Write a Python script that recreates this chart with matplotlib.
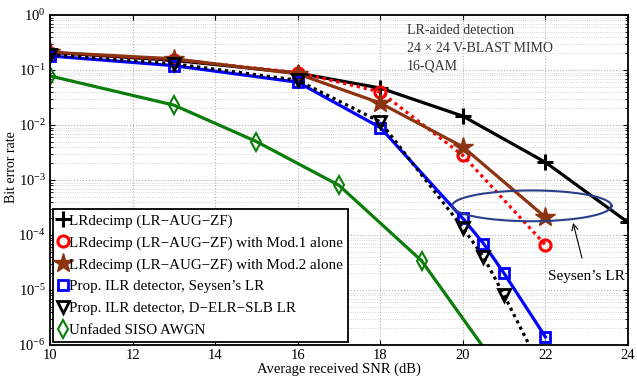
import numpy as np
import matplotlib
matplotlib.use('Agg')
import matplotlib.pyplot as plt
from matplotlib.lines import Line2D

plt.rcParams['font.family'] = ['Liberation Serif', 'DejaVu Serif']
plt.rcParams['mathtext.fontset'] = 'stix'

# data
snr_a = [10, 13, 16, 18, 20, 22, 24]
ber_lrdecimp = [0.21, 0.15, 0.088, 0.047, 0.0145, 0.0021, 1.7e-4]

snr_b = [10, 13, 16, 18, 20, 22]
ber_mod1 = [0.2, 0.155, 0.09, 0.04, 0.0028, 6.6e-5]
ber_mod2 = [0.21, 0.16, 0.085, 0.025, 0.004, 2.1e-4]

snr_c = [10, 13, 16, 18, 20, 20.5, 21, 22]
ber_seysen = [0.18, 0.12, 0.06, 0.009, 2.0e-4, 7.0e-5, 2.0e-5, 1.4e-6]
ber_delr = [0.19, 0.13, 0.065, 0.0114, 1.35e-4, 4.0e-5, 8.0e-6, 2.6e-7]

snr_d = [10, 13, 15, 17, 19, 21]
ber_awgn = [0.078, 0.023, 0.005, 8.0e-4, 3.4e-5, 2.7e-7]

labels = ['LRdecimp (LR\u2212AUG\u2212ZF)',
          'LRdecimp (LR\u2212AUG\u2212ZF) with Mod.1 alone',
          'LRdecimp (LR\u2212AUG\u2212ZF) with Mod.2 alone',
          'Prop. ILR detector, Seysen\u2019s LR',
          'Prop. ILR detector, D\u2212ELR\u2212SLB LR',
          'Unfaded SISO AWGN']

brown = '#8c3310'
green = '#0a7d0a'
styles = [
    dict(color='k', marker='+', ms=11, mew=2.2, mfc='none'),
    dict(color='r', marker='o', ms=8, mew=2.2, mfc='none'),
    dict(color=brown, marker='*', ms=15, mew=1, mfc=brown),
    dict(color='b', marker='s', ms=7, mew=2, mfc='none'),
    dict(color='k', marker='v', ms=9, mew=2, mfc='none'),
    dict(color=green, marker='d', ms=9, mew=1.5, mfc='none'),
]
dotted = (0, (1, 1.2))
linestyles = ['-', dotted, '-', '-', dotted, '-']

fig = plt.figure(figsize=(6.37, 3.83), dpi=100)
ax = fig.add_axes([50/637, 38/383, 578/637, 330/383])

series = [(snr_a, ber_lrdecimp), (snr_b, ber_mod1), (snr_b, ber_mod2),
          (snr_c, ber_seysen), (snr_c, ber_delr), (snr_d, ber_awgn)]
for (x, y), st, ls in zip(series, styles, linestyles):
    ax.semilogy(x, y, lw=2.3, ls=ls, **st)

ax.set_xlim(10, 24)
ax.set_ylim(1e-6, 1)
ax.set_xticks(range(10, 25, 2))
ax.grid(True, which='major', color='#b0b0b0', ls=':', lw=0.8)
ax.grid(True, which='minor', color='#c8c8c8', ls=':', lw=0.6)
ax.tick_params(which='both', direction='in', top=True, right=True, labelsize=10.5, pad=3)
for s in ax.spines.values():
    s.set_linewidth(1.3)
ax.set_xlabel('Average received SNR (dB)', fontsize=10.5, labelpad=0)
ax.set_ylabel('Bit error rate', fontsize=10)
ax.yaxis.set_label_coords(-0.056, 0.54)

ax.text(18.65, 0.68, 'LR-aided detection\n24 \u00d7 24 V-BLAST MIMO\n16-QAM',
        fontsize=10, va='top', ha='left', linespacing=1.45, color='#333333')

# ellipse around the Seysen's LR region
t = np.linspace(0, 2*np.pi, 200)
ex = 21.67 + 1.93*np.cos(t)
ey = 10**(-3.47 + 0.28*np.sin(t))
ax.plot(ex, ey, color='#2b3e8c', lw=1.5)
ax.annotate("Seysen\u2019s LR", xy=(22.67, 10**-3.78), xytext=(23.0, 10**-4.76),
            fontsize=11, ha='center', va='center',
            arrowprops=dict(arrowstyle='->', color='k', lw=0.8, shrinkA=7, shrinkB=0))

handles = [Line2D([], [], ls='none', **st) for st in styles]
leg = ax.legend(handles, labels, loc='lower left', fontsize=10.8, handlelength=0.6,
                handletextpad=0.1, borderpad=0.35, labelspacing=0.55,
                fancybox=False, framealpha=1, edgecolor='k',
                bbox_to_anchor=(0.0, 0.0), borderaxespad=0.2)
leg.get_frame().set_linewidth(1.3)

plt.savefig('out.png', dpi=100)
